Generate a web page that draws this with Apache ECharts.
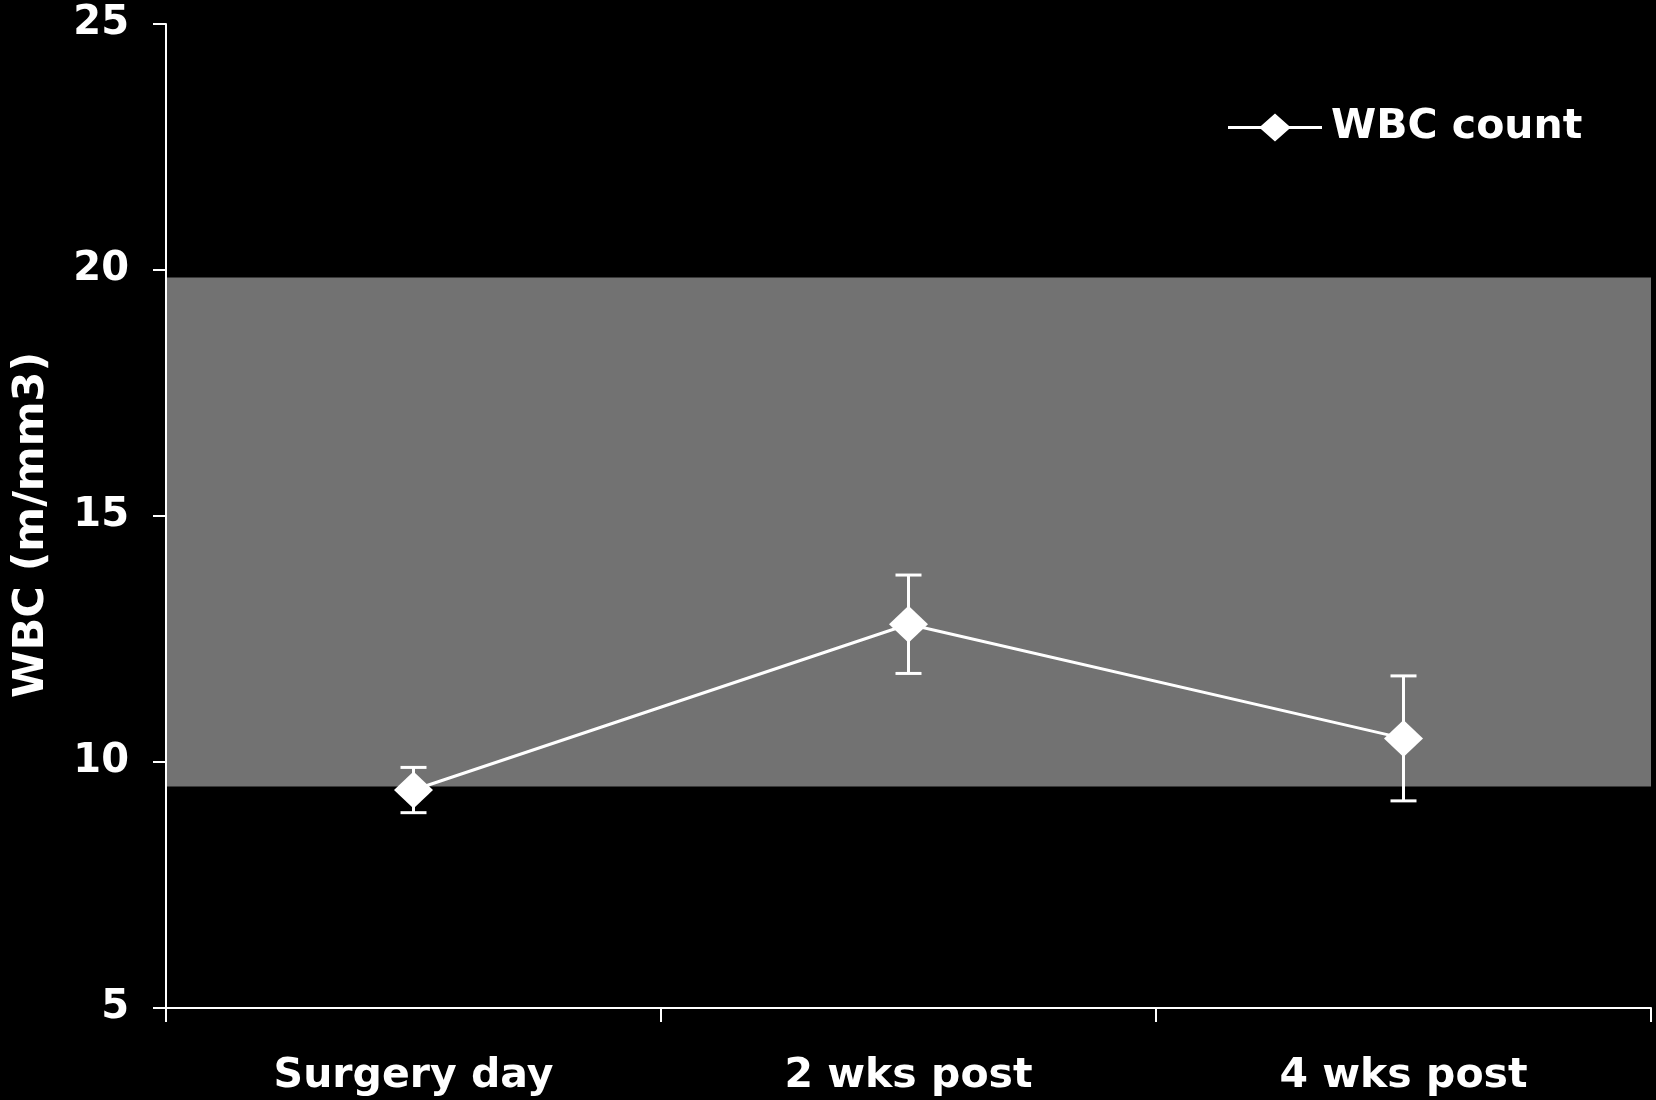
<!DOCTYPE html>
<html>
<head>
<meta charset="utf-8">
<title>WBC count</title>
<script src="https://cdn.jsdelivr.net/npm/echarts@6/dist/echarts.min.js"></script>
<style>
  html, body { margin: 0; padding: 0; background: #000; }
  #chart { width: 1656px; height: 1100px; }
</style>
</head>
<body>
<div id="chart"></div>
<script>
// Time points
const categories = ['Surgery day', '2 wks post', '4 wks post'];
// Mean WBC count (m/mm3) at each time point
const wbcMean = [9.43, 12.8, 10.48];
// Error bar half-widths
const wbcError = [0.46, 1.0, 1.27];
// Shaded normal reference range
const normalRange = [9.5, 19.85];
// Y axis scale
const yMin = 5, yMax = 25, yStep = 5;

const FONT = '"DejaVu Sans", Verdana, sans-serif';

const chart = echarts.init(document.getElementById('chart'));

const errorData = categories.map((c, i) => [i, wbcMean[i] - wbcError[i], wbcMean[i] + wbcError[i]]);

// Legend glyph: a line with a diamond in the middle
const legendIcon = 'path://M0,13.5 L35,13.5 L50,0 L65,13.5 L100,13.5 L100,16.5 L65,16.5 L50,30 L35,16.5 L0,16.5 Z';

chart.setOption({
  backgroundColor: '#000000',
  animation: false,
  grid: { left: 166, right: 5, top: 24, bottom: 92, containLabel: false },
  legend: {
    show: true,
    left: 1223,
    top: 102,
    itemWidth: 94,
    itemHeight: 30,
    data: [{ name: 'WBC count', icon: legendIcon }],
    textStyle: {
      color: '#ffffff', fontFamily: FONT, fontWeight: 'bold', fontSize: 41,
      padding: [0, 0, 0, 4]
    }
  },
  xAxis: {
    type: 'category',
    data: categories,
    boundaryGap: true,
    z: 5,
    axisLine: { lineStyle: { color: '#ffffff', width: 2 } },
    axisTick: { show: true, length: 14, lineStyle: { color: '#ffffff', width: 2 } },
    axisLabel: { color: '#ffffff', fontFamily: FONT, fontWeight: 'bold', fontSize: 41, margin: 48 },
    splitLine: { show: false }
  },
  yAxis: {
    type: 'value',
    min: yMin, max: yMax, interval: yStep,
    z: 5,
    name: 'WBC (m/mm3)',
    nameLocation: 'middle',
    nameGap: 113,
    nameRotate: 90,
    nameTextStyle: { color: '#ffffff', fontFamily: FONT, fontWeight: 'bold', fontSize: 43, padding: [0, 18, 0, 0] },
    axisLine: { show: true, lineStyle: { color: '#ffffff', width: 2 } },
    axisTick: { show: true, length: 13, lineStyle: { color: '#ffffff', width: 2 } },
    axisLabel: { color: '#ffffff', fontFamily: FONT, fontWeight: 'bold', fontSize: 40, margin: 37 },
    splitLine: { show: false }
  },
  series: [
    {
      name: 'WBC count',
      type: 'line',
      data: wbcMean,
      z: 4,
      symbol: 'diamond',
      symbolSize: [39, 37],
      itemStyle: { color: '#ffffff' },
      lineStyle: { color: '#ffffff', width: 3 },
      markArea: {
        silent: true,
        itemStyle: { color: '#727272' },
        data: [[{ yAxis: normalRange[0] }, { yAxis: normalRange[1] }]]
      }
    },
    {
      name: 'error',
      type: 'custom',
      z: 3,
      data: errorData,
      encode: { x: 0, y: [1, 2] },
      renderItem: function (params, api) {
        const idx = api.value(0);
        const lo = api.coord([idx, api.value(1)]);
        const hi = api.coord([idx, api.value(2)]);
        const half = 13;
        const style = { stroke: '#ffffff', lineWidth: 3 };
        return {
          type: 'group',
          children: [
            { type: 'line', shape: { x1: lo[0], y1: lo[1], x2: hi[0], y2: hi[1] }, style: style },
            { type: 'line', shape: { x1: hi[0] - half, y1: hi[1], x2: hi[0] + half, y2: hi[1] }, style: style },
            { type: 'line', shape: { x1: lo[0] - half, y1: lo[1], x2: lo[0] + half, y2: lo[1] }, style: style }
          ]
        };
      }
    }
  ]
});
</script>
</body>
</html>
